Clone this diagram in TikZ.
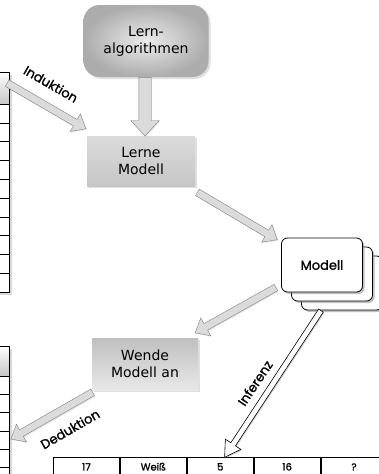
\documentclass[tikz,border=0pt]{standalone}
\usepackage{fontspec}
\setmainfont{DejaVu Sans}
\newfontfamily\geofont{Poppins}[FakeBold=1.2]
\usetikzlibrary{shapes.arrows,shadows,calc,positioning}

\newcommand\blockarrow[4][]{%
  \path let \p1=($(#4)-(#3)$), \n1={veclen(\x1,\y1)}, \n2={atan2(\y1,\x1)} in
    (#3) node[garrow,#1,minimum height=\n1,rotate=\n2,anchor=tail] (#2) {};}

\begin{document}
\begin{tikzpicture}[x=1pt,y=-1pt,
    box/.style={draw=none,minimum width=108pt,minimum height=50pt,align=center,
      font=\fontsize{14}{17}\selectfont,
      drop shadow={opacity=0.25,shadow xshift=2pt,shadow yshift=-2pt}},
    card/.style={draw=black,fill=white,rounded corners=6pt,minimum width=81pt,minimum height=54pt,
      line width=0.8pt,drop shadow={opacity=0.5,shadow xshift=2pt,shadow yshift=-2pt}},
    garrow/.style={single arrow,draw=black!50,fill=gray!28,inner xsep=0pt,inner ysep=3.5pt,
      single arrow head extend=6.5pt,single arrow tip angle=80,
      drop shadow={opacity=0.2,shadow xshift=1pt,shadow yshift=-1pt}},
    warrow/.style={garrow,draw=black,fill=white,line width=0.6pt,inner ysep=2.5pt,
      single arrow head extend=6.5pt,single arrow tip angle=62},
    lbl/.style={font=\geofont\fontsize{13}{15}\selectfont},
    cell/.style={draw=black,line width=0.9pt,minimum width=66pt,minimum height=20pt,anchor=north west,
      text height=8pt,text depth=2pt,font=\geofont\fontsize{10}{12}\selectfont}]
  \clip (0,0) rectangle (379,474);

  % tables on the left
  \fill[black!30,opacity=0.5] (-60,75) rectangle (12,295);
  \draw[fill=white,line width=0.8pt] (-60,72) rectangle (9,292);
  \shade[top color=white,bottom color=gray!45,draw=black,line width=0.8pt] (-60,72) rectangle (9,104);
  \foreach \k in {1,...,9}
    \draw (-60,104+18.8*\k) -- (9,104+18.8*\k);
  \fill[black!30,opacity=0.5] (-60,349) rectangle (12,480);
  \draw[fill=white,line width=0.8pt] (-60,346) rectangle (9,480);
  \shade[top color=white,bottom color=gray!45,draw=black,line width=0.8pt] (-60,346) rectangle (9,376);
  \foreach \k in {1,...,5}
    \draw (-60,376+18.3*\k) -- (9,376+18.3*\k);

  % boxes
  \node[box,minimum width=125pt,minimum height=72pt,rounded corners=16pt,
    inner color=gray!15,outer color=gray!65] (algo) at (146,41) {Lern-\\algorithmen};
  \node[box,top color=gray!28,bottom color=gray!45] (lerne) at (141,161) {Lerne\\Modell};
  \node[box,minimum width=106pt,minimum height=52pt,top color=gray!50,bottom color=gray!18]
    (wende) at (145,364) {Wende\\Modell an};

  \node[card] (m3) at (342,283) {};
  \node[card] (m2) at (332,274) {};
  \node[card,lbl] (modell) at (322,265) {Modell};

  % bottom row
  \node[cell] (c1) at (53,457) {17};
  \node[cell] (c2) at (c1.north east) {Weiß};
  \node[cell] (c3) at (c2.north east) {5};
  \node[cell] (c4) at (c3.north east) {16};
  \node[cell] (c5) at (c4.north east) {?};

  % arrows
  \coordinate (ind1) at (7,83);
  \coordinate (ind2) at ($(lerne.north west)+(-1,-7)$);
  \coordinate (ded1) at ($(wende.south west)+(1,2)$);
  \coordinate (ded2) at (11,439);
  \blockarrow[inner ysep=6pt,single arrow head extend=8pt,single arrow tip angle=85]{a0}{$(algo.south)+(-1,0)$}{$(lerne.north)+(4,0)$}
  \blockarrow{a1}{ind1}{ind2}
  \blockarrow{a2}{$(lerne.south east)+(2,6)$}{$(modell.north west)+(-4,2)$}
  \blockarrow{a3}{$(modell.south west)+(-5,-5)$}{$(wende.north east)+(-3,-5)$}
  \blockarrow{a4}{ded1}{ded2}
  \blockarrow[warrow]{a5}{$(m3.south west)+(20,0)$}{$(c3.north west)+(38,0)$}

  \node[lbl,rotate=-30] (induktion) at (51,84) {Induktion};
  \node[lbl,rotate=30] (deduktion) at (70,429) {Deduktion};
  \node[lbl,rotate=56] (inferenz) at (255,383) {Inferenz};
\end{tikzpicture}
\end{document}
